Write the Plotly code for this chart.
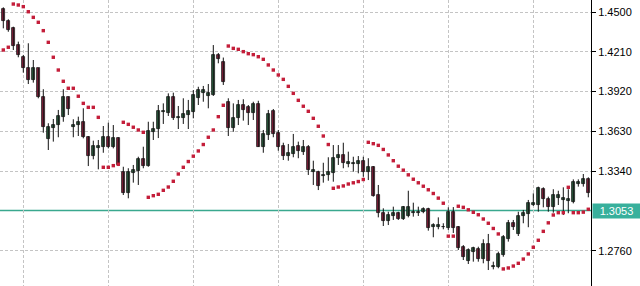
import plotly.graph_objects as go

# OHLC data (price), one candle per bar index
opens = [1.4520,1.4437,1.4381,1.4259,1.4170,1.4090,1.4004,1.4090,1.3878,1.3572,
         1.3652,1.3676,1.3737,1.3878,1.3664,1.3676,1.3700,1.3587,1.3450,1.3506,
         1.3518,1.3587,1.3518,1.3579,1.3336,1.3183,1.3329,1.3343,1.3426,1.3377,
         1.3627,1.3645,1.3769,1.3766,1.3883,1.3725,1.3725,1.3749,1.3773,1.3871,
         1.3907,1.3890,1.3895,1.4187,1.4138,1.3842,1.3652,1.3725,1.3822,1.3810,
         1.3762,1.3829,1.3518,1.3603,1.3781,1.3616,1.3523,1.3450,1.3465,1.3523,
         1.3482,1.3518,1.3336,1.3336,1.3304,1.3312,1.3329,1.3434,1.3458,1.3390,
         1.3390,1.3392,1.3416,1.3336,1.3368,1.3166,1.3037,1.2979,1.3013,1.3037,
         1.2989,1.3013,1.3033,1.3037,1.3044,1.3064,1.2931,1.2935,1.2931,1.2923,
         1.3044,1.2935,1.2785,1.2687,1.2753,1.2770,1.2697,1.2809,1.2639,1.2643,
         1.2729,1.2843,1.2964,1.2882,1.3013,1.3027,1.3093,1.3093,1.3208,1.3135,
         1.3076,1.3142,1.3130,1.3124,1.3117,1.3246,1.3246,1.3280]
highs = [1.4534,1.4447,1.4393,1.4284,1.4187,1.4272,1.4150,1.4092,1.3937,1.3689,
         1.3720,1.3786,1.3937,1.3884,1.3718,1.3737,1.3798,1.3596,1.3562,1.3567,
         1.3669,1.3693,1.3676,1.3587,1.3372,1.3361,1.3385,1.3445,1.3518,1.3700,
         1.3700,1.3822,1.3834,1.3907,1.3912,1.3815,1.3871,1.3859,1.3931,1.3955,
         1.3961,1.3975,1.4259,1.4201,1.4168,1.3871,1.3834,1.3859,1.3864,1.3822,
         1.3846,1.3853,1.3640,1.3786,1.3793,1.3640,1.3547,1.3538,1.3611,1.3555,
         1.3567,1.3530,1.3416,1.3343,1.3401,1.3441,1.3530,1.3530,1.3547,1.3482,
         1.3445,1.3450,1.3445,1.3434,1.3377,1.3239,1.3069,1.3044,1.3081,1.3044,
         1.3086,1.3197,1.3110,1.3081,1.3076,1.3073,1.2960,1.3003,1.2960,1.3076,
         1.3078,1.2940,1.2801,1.2777,1.2789,1.2789,1.2843,1.2882,1.2680,1.2753,
         1.2874,1.2984,1.2984,1.3044,1.3057,1.3130,1.3178,1.3227,1.3222,1.3154,
         1.3208,1.3197,1.3222,1.3208,1.3280,1.3280,1.3319,1.3295]
lows = [1.4381,1.4356,1.4223,1.4170,1.4058,1.3975,1.3985,1.3871,1.3620,1.3494,
        1.3555,1.3587,1.3700,1.3749,1.3587,1.3596,1.3579,1.3377,1.3426,1.3353,
        1.3474,1.3506,1.3506,1.3377,1.3166,1.3142,1.3256,1.3239,1.3361,1.3372,
        1.3567,1.3581,1.3684,1.3742,1.3713,1.3647,1.3684,1.3647,1.3725,1.3822,
        1.3846,1.3798,1.3888,1.4126,1.3968,1.3596,1.3627,1.3676,1.3708,1.3676,
        1.3713,1.3516,1.3474,1.3567,1.3587,1.3489,1.3421,1.3416,1.3441,1.3434,
        1.3458,1.3312,1.3239,1.3202,1.3256,1.3270,1.3263,1.3385,1.3361,1.3368,
        1.3336,1.3324,1.3299,1.3275,1.3154,1.3003,1.2940,1.2947,1.2984,1.2984,
        1.2984,1.3003,1.3008,1.3013,1.3033,1.2906,1.2858,1.2916,1.2916,1.2911,
        1.2889,1.2765,1.2692,1.2663,1.2680,1.2680,1.2668,1.2619,1.2624,1.2632,
        1.2716,1.2826,1.2911,1.2867,1.2960,1.2931,1.3086,1.3044,1.3076,1.3044,
        1.3037,1.3093,1.3020,1.3033,1.3105,1.3227,1.3227,1.3149]
closes = [1.4437,1.4369,1.4252,1.4187,1.4090,1.4004,1.4090,1.3878,1.3660,1.3660,
          1.3676,1.3742,1.3878,1.3791,1.3676,1.3700,1.3587,1.3450,1.3523,1.3523,
          1.3587,1.3518,1.3579,1.3385,1.3183,1.3336,1.3348,1.3426,1.3377,1.3635,
          1.3645,1.3778,1.3781,1.3883,1.3725,1.3735,1.3756,1.3778,1.3895,1.3931,
          1.3931,1.3912,1.4187,1.4155,1.3992,1.3652,1.3725,1.3822,1.3786,1.3762,
          1.3829,1.3518,1.3611,1.3756,1.3611,1.3518,1.3450,1.3474,1.3518,1.3489,
          1.3514,1.3348,1.3348,1.3232,1.3312,1.3336,1.3434,1.3458,1.3401,1.3409,
          1.3401,1.3416,1.3336,1.3372,1.3159,1.3033,1.2979,1.3020,1.3037,1.2989,
          1.3076,1.3076,1.3044,1.3044,1.3064,1.2923,1.2947,1.2947,1.2935,1.3044,
          1.2923,1.2777,1.2712,1.2765,1.2777,1.2697,1.2809,1.2687,1.2648,1.2736,
          1.2858,1.2964,1.2931,1.3013,1.3033,1.3105,1.3105,1.3215,1.3135,1.3076,
          1.3166,1.3166,1.3142,1.3135,1.3263,1.3263,1.3280,1.3178]
# Parabolic SAR values
sar = [1.4223,1.4243,1.4558,1.4551,1.4539,1.4502,1.4461,1.4425,1.4364,1.4279,
       1.4170,1.4077,1.3995,1.3944,1.3944,1.3886,1.3834,1.3805,1.3805,1.3732,
       1.3368,1.3368,1.3380,1.3390,1.3696,1.3681,1.3660,1.3640,1.3623,1.3149,
       1.3161,1.3171,1.3200,1.3224,1.3266,1.3319,1.3368,1.3410,1.3449,1.3487,
       1.3534,1.3587,1.3640,1.3737,1.3820,1.4252,1.4235,1.4228,1.4211,1.4196,
       1.4189,1.4174,1.4155,1.4114,1.4077,1.4041,1.4009,1.3958,1.3907,1.3856,
       1.3813,1.3776,1.3725,1.3667,1.3596,1.3534,1.3215,1.3224,1.3232,1.3246,
       1.3255,1.3264,1.3279,1.3550,1.3540,1.3528,1.3498,1.3458,1.3416,1.3376,
       1.3347,1.3313,1.3281,1.3255,1.3230,1.3204,1.3177,1.3143,1.3106,1.2866,
       1.2866,1.3084,1.3076,1.3058,1.3040,1.3022,1.2991,1.2960,1.2922,1.2882,
       1.2627,1.2634,1.2648,1.2668,1.2699,1.2736,1.2785,1.2836,1.2901,1.2963,
       1.3020,1.3037,1.3037,1.3222,1.3037,1.3037,1.3041,1.3062]

tick_vals = [1.4500, 1.4210, 1.3920, 1.3630, 1.3340, 1.2760]
tick_text = ["1.4500", "1.4210", "1.3920", "1.3630", "1.3340", "1.2760"]
vgrid_idx = [4, 21, 38, 55, 72, 89, 106]
price_line = 1.3053
price_label = "1.3053"

BULL = "#2d6642"
BEAR = "#962040"
SAR_C = "#c41e3a"
TEAL = "#3aa88e"
GRID = "#c4c4c4"

n = len(opens)
idx = list(range(n))

wx, wy = [], []
for i in idx:
    wx += [i, i, None]
    wy += [lows[i], highs[i], None]

bull_i = [i for i in idx if closes[i] >= opens[i]]
bear_i = [i for i in idx if closes[i] < opens[i]]

fig = go.Figure()
fig.add_trace(go.Scatter(x=wx, y=wy, mode="lines", line=dict(color="#111111", width=1),
                         hoverinfo="skip", showlegend=False))
for ids, col in ((bull_i, BULL), (bear_i, BEAR)):
    fig.add_trace(go.Bar(
        x=ids,
        base=[min(opens[i], closes[i]) for i in ids],
        y=[max(abs(closes[i] - opens[i]), 0.0004) for i in ids],
        width=0.66,
        marker=dict(color=col, line=dict(color="#1a1a1a", width=0.8)),
        showlegend=False, hoverinfo="skip"))
fig.add_trace(go.Scatter(x=idx, y=sar, mode="markers",
                         marker=dict(symbol="square", size=3.4, color=SAR_C, line=dict(width=0)),
                         showlegend=False, hoverinfo="skip"))

fig.add_shape(type="line", xref="paper", x0=0, x1=1, y0=price_line, y1=price_line,
              line=dict(color=TEAL, width=1.3), layer="below")

fig.add_annotation(xref="paper", x=1, xanchor="left", y=price_line, yanchor="middle",
                   text=price_label, showarrow=False, bgcolor="#38b09c",
                   font=dict(family="Liberation Sans, Arial, sans-serif", size=11, color="white"),
                   width=47, height=14, align="center", borderpad=0, xshift=1)

fig.update_layout(
    width=640, height=286,
    margin=dict(l=0, r=49, t=0, b=0),
    paper_bgcolor="white", plot_bgcolor="white",
    barmode="overlay", bargap=0,
    showlegend=False, hovermode=False,
    font=dict(family="Liberation Sans, Arial, sans-serif", size=11, color="#000000"),
)
fig.update_xaxes(range=[-0.66, 117.54], showticklabels=False, ticks="",
                 tickvals=vgrid_idx, showgrid=True, gridcolor=GRID, griddash="3px,2px",
                 gridwidth=1, zeroline=False, showline=False, fixedrange=True)
fig.update_yaxes(range=[1.25026, 1.45875], side="right", tickvals=tick_vals, ticktext=tick_text,
                 showgrid=True, gridcolor=GRID, griddash="3px,2px", gridwidth=1,
                 zeroline=False, showline=True, linecolor="#000000", linewidth=1,
                 ticks="outside", ticklen=4, tickcolor="#000000",
                 tickfont=dict(size=11, color="#000000"), fixedrange=True)

fig.write_html("out.html", config={"displayModeBar": False})
